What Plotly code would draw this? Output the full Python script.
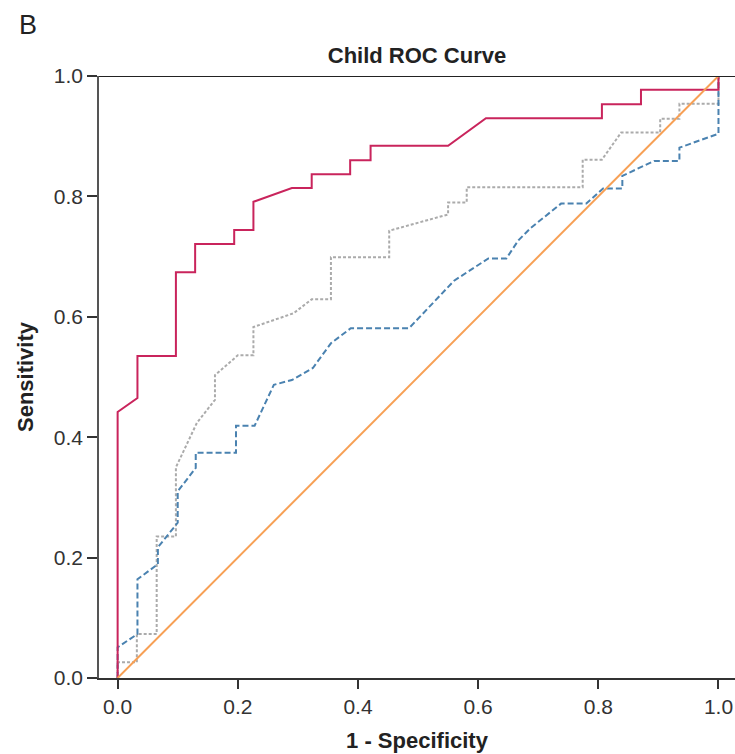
import plotly.graph_objects as go

# Data
fpr_red = [0, 0, 0.033, 0.033, 0.097, 0.097, 0.129, 0.129, 0.194, 0.194, 0.226, 0.226,
           0.290, 0.323, 0.323, 0.387, 0.387, 0.421, 0.421, 0.550, 0.613, 0.806, 0.806,
           0.871, 0.871, 1.0, 1.0]
sens_red = [0, 0.442, 0.465, 0.535, 0.535, 0.674, 0.674, 0.721, 0.721, 0.744, 0.744, 0.791,
            0.814, 0.814, 0.837, 0.837, 0.860, 0.860, 0.884, 0.884, 0.930, 0.930, 0.953,
            0.953, 0.977, 0.977, 1.0]

fpr_gray = [0, 0, 0.032, 0.032, 0.065, 0.065, 0.097, 0.097, 0.132, 0.162, 0.162, 0.200,
            0.226, 0.226, 0.293, 0.323, 0.355, 0.355, 0.452, 0.452, 0.550, 0.550, 0.581,
            0.581, 0.774, 0.774, 0.806, 0.838, 0.903, 0.903, 0.935, 0.935, 1.0, 1.0]
sens_gray = [0, 0.026, 0.026, 0.073, 0.073, 0.235, 0.235, 0.350, 0.424, 0.462, 0.503, 0.536,
             0.536, 0.583, 0.606, 0.629, 0.629, 0.699, 0.699, 0.743, 0.770, 0.790, 0.790,
             0.815, 0.815, 0.861, 0.861, 0.906, 0.906, 0.929, 0.929, 0.954, 0.954, 1.0]

fpr_blue = [0, 0, 0.033, 0.033, 0.067, 0.067, 0.100, 0.100, 0.130, 0.130, 0.197, 0.197,
            0.228, 0.260, 0.290, 0.325, 0.355, 0.388, 0.485, 0.533, 0.560, 0.617, 0.647,
            0.667, 0.688, 0.738, 0.780, 0.808, 0.840, 0.840, 0.893, 0.935, 0.935, 1.0, 1.0]
sens_blue = [0, 0.051, 0.073, 0.164, 0.189, 0.217, 0.258, 0.310, 0.349, 0.374, 0.374, 0.419,
             0.419, 0.487, 0.495, 0.515, 0.556, 0.581, 0.581, 0.632, 0.660, 0.697, 0.697,
             0.727, 0.748, 0.788, 0.788, 0.813, 0.813, 0.834, 0.859, 0.859, 0.881, 0.904, 1.0]

ref_x = [0, 1]
ref_y = [0, 1]

x_ticks = [0.0, 0.2, 0.4, 0.6, 0.8, 1.0]
y_ticks = [0.0, 0.2, 0.4, 0.6, 0.8, 1.0]
tick_text = ["0.0", "0.2", "0.4", "0.6", "0.8", "1.0"]

FONT = "Liberation Sans, Arial, Helvetica, sans-serif"

fig = go.Figure()
fig.add_trace(go.Scatter(x=fpr_gray, y=sens_gray, mode="lines",
                         line=dict(color="#ababab", width=2, dash="3px,2px"),
                         showlegend=False))
fig.add_trace(go.Scatter(x=fpr_blue, y=sens_blue, mode="lines",
                         line=dict(color="#4a82b0", width=2, dash="6px,3px"),
                         showlegend=False))
fig.add_trace(go.Scatter(x=fpr_red, y=sens_red, mode="lines",
                         line=dict(color="#c9245c", width=2),
                         showlegend=False))
fig.add_trace(go.Scatter(x=ref_x, y=ref_y, mode="lines",
                         line=dict(color="#f7a055", width=2),
                         showlegend=False))

# top frame line
fig.add_shape(type="line", xref="paper", yref="y", x0=0, x1=1, y0=1, y1=1,
              line=dict(color="#222222", width=2))

fig.update_layout(
    width=735, height=754,
    margin=dict(l=99, r=0, t=76, b=76),
    paper_bgcolor="white", plot_bgcolor="white",
    font=dict(family=FONT, color="#333333"),
    title=dict(text="<b>Child ROC Curve</b>", x=0.5, xref="paper", xanchor="center",
               y=1 - 55 / 754, yref="container", yanchor="middle",
               font=dict(size=22, color="#222222", family=FONT)),
    xaxis=dict(range=[-0.031, 1.0275], tickmode="array", tickvals=x_ticks, ticktext=tick_text,
               showgrid=False, zeroline=False, showline=True, linecolor="#333333", linewidth=2,
               ticks="outside", ticklen=9, tickwidth=1.5, tickcolor="#333333",
               tickfont=dict(size=21, color="#333333"),
               title=dict(text="<b>1 - Specificity</b>", font=dict(size=22, color="#222222"),
                          standoff=15)),
    yaxis=dict(range=[0, 1], tickmode="array", tickvals=y_ticks, ticktext=tick_text,
               showgrid=False, zeroline=False, showline=True, linecolor="#555555", linewidth=1.5,
               ticks="outside", ticklen=10, tickwidth=1.5, tickcolor="#333333",
               tickfont=dict(size=21, color="#333333"),
               title=dict(text="<b>Sensitivity</b>", font=dict(size=22, color="#222222"),
                          standoff=14)),
    annotations=[dict(text="B", xref="paper", yref="paper", x=(17 - 99) / 636, y=(678 - 25) / 602,
                      xanchor="left", yanchor="middle", showarrow=False,
                      font=dict(size=27, color="#222222", family=FONT))],
)

fig.write_html("out.html")
